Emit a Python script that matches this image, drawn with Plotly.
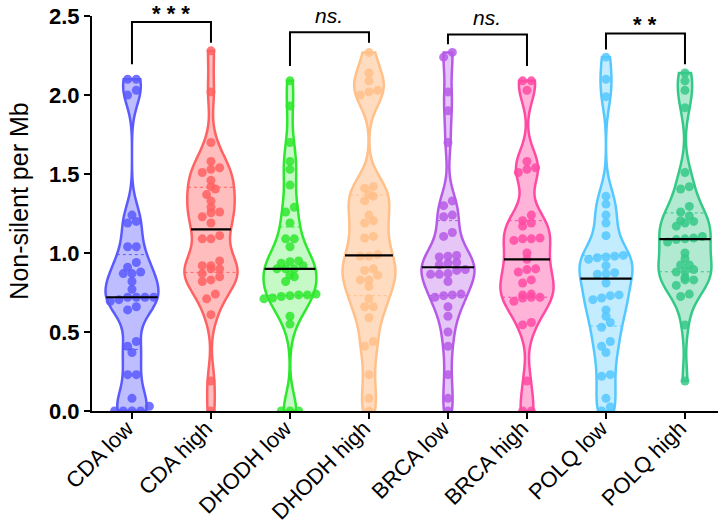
import numpy as np
import plotly.graph_objects as go

categories = ["CDA low", "CDA high", "DHODH low", "DHODH high",
              "BRCA low", "BRCA high", "POLQ low", "POLQ high"]

cda_low = [2.10, 2.10, 2.03, 2.00, 1.24, 1.20, 1.19, 1.04, 1.04, 0.94, 0.91, 0.88,
           0.87, 0.87, 0.82, 0.77, 0.72, 0.72, 0.72, 0.72, 0.705, 0.695, 0.66, 0.64,
           0.44, 0.41, 0.37, 0.23, 0.23, 0.08, 0.03, 0.0, 0.0, 0.0, 0.0]
cda_high = [2.28, 2.02, 1.70, 1.58, 1.54, 1.53, 1.51, 1.46, 1.42, 1.405, 1.37, 1.33,
            1.29, 1.26, 1.255, 1.23, 1.19, 1.11, 1.09, 1.09, 0.95, 0.92, 0.92, 0.90,
            0.90, 0.87, 0.85, 0.83, 0.82, 0.74, 0.71, 0.61, 0.19, 0.0]
dhodh_low = [2.09, 1.93, 1.70, 1.58, 1.53, 1.43, 1.29, 1.26, 1.19, 1.09, 1.09, 1.04,
             0.95, 0.945, 0.935, 0.92, 0.90, 0.90, 0.90, 0.86, 0.85, 0.82, 0.74, 0.735,
             0.735, 0.73, 0.725, 0.715, 0.71, 0.60, 0.55, 0.0, 0.0, 0.0]
dhodh_high = [2.27, 2.14, 2.09, 2.03, 2.02, 2.00, 1.42, 1.41, 1.37, 1.36, 1.33, 1.24,
              1.205, 1.19, 1.105, 1.095, 0.99, 0.98, 0.98, 0.90, 0.89, 0.86, 0.83, 0.83,
              0.79, 0.71, 0.66, 0.66, 0.59, 0.44, 0.41, 0.23, 0.08, 0.0]
brca_low = [2.27, 2.24, 2.02, 1.90, 1.70, 1.33, 1.30, 1.24, 1.23, 1.13, 1.105, 0.985,
            0.98, 0.975, 0.94, 0.935, 0.925, 0.895, 0.89, 0.87, 0.865, 0.865, 0.82, 0.74,
            0.735, 0.73, 0.72, 0.66, 0.60, 0.50, 0.41, 0.23, 0.08, 0.0]
brca_high = [2.09, 2.09, 2.03, 1.58, 1.54, 1.53, 1.51, 1.24, 1.205, 1.19, 1.17, 1.095,
             1.09, 1.09, 1.08, 1.00, 0.96, 0.90, 0.895, 0.88, 0.83, 0.81, 0.74, 0.735,
             0.72, 0.72, 0.715, 0.695, 0.56, 0.545, 0.19, 0.0, 0.0]
polq_low = [2.24, 2.10, 1.99, 1.36, 1.31, 1.24, 1.19, 1.11, 0.985, 0.98, 0.975, 0.97,
            0.96, 0.92, 0.875, 0.87, 0.865, 0.81, 0.735, 0.73, 0.715, 0.705, 0.64, 0.60,
            0.56, 0.53, 0.44, 0.41, 0.37, 0.23, 0.22, 0.08, 0.025, 0.0]
polq_high = [2.14, 2.09, 2.03, 1.92, 1.51, 1.42, 1.405, 1.295, 1.26, 1.235, 1.205, 1.20,
             1.19, 1.17, 1.105, 1.095, 1.09, 1.085, 1.07, 1.00, 0.965, 0.925, 0.925, 0.895,
             0.885, 0.88, 0.845, 0.83, 0.83, 0.795, 0.74, 0.725, 0.545, 0.19]

series = [cda_low, cda_high, dhodh_low, dhodh_high, brca_low, brca_high, polq_low, polq_high]

colors = ["#5a5aff", "#ff6262", "#2ee82e", "#ffc08a",
          "#b65ae8", "#ff4aa3", "#55c8ff", "#35c987"]
fills = ["rgba(90,90,255,0.40)", "rgba(255,98,98,0.42)", "rgba(46,232,46,0.28)",
         "rgba(255,192,138,0.55)", "rgba(182,90,232,0.35)", "rgba(255,74,163,0.42)",
         "rgba(85,200,255,0.35)", "rgba(53,201,135,0.38)"]

bracket_pairs = [(0, 1), (2, 3), (4, 5), (6, 7)]
bracket_labels = ["* * *", "<i>ns.</i>", "<i>ns.</i>", "* *"]
bracket_top = [2.462, 2.397, 2.384, 2.39]
bracket_left_end = [2.195, 2.184, 2.321, 2.289]
bracket_right_end = [2.331, 2.331, 2.184, 2.195]

y_ticks = [0.0, 0.5, 1.0, 1.5, 2.0, 2.5]

BW = 0.11
VW = 0.67
STEP = 0.11
ROW = 0.035
FONT = "Arial, Liberation Sans, sans-serif"


def density(vals, t):
    v = np.asarray(vals, float)
    t = np.atleast_1d(np.asarray(t, float))
    return np.exp(-0.5 * ((t[:, None] - v[None, :]) / BW) ** 2).sum(axis=1)


def halfwidth(vals, y):
    v = np.asarray(vals, float)
    grid = np.linspace(v.min(), v.max(), 600)
    fmax = density(v, grid).max()
    return VW / 2 * density(v, y)[0] / fmax


def swarm(vals):
    v = np.asarray(vals, float)
    order = np.argsort(v)
    offs = np.zeros(len(v))
    rows = []
    for i in order:
        if rows and v[i] - v[rows[-1][0]] < ROW:
            rows[-1].append(i)
        else:
            rows.append([i])
    for r in rows:
        n = len(r)
        for k, i in enumerate(r):
            offs[i] = (k - (n - 1) / 2) * STEP
    return offs


fig = go.Figure()

for i, vals in enumerate(series):
    fig.add_trace(go.Violin(
        x=[i] * len(vals), y=vals, width=VW, scalemode="width", spanmode="hard",
        bandwidth=BW, points=False, line=dict(color=colors[i], width=2.5),
        fillcolor=fills[i], box_visible=False, meanline_visible=False,
        showlegend=False, hoverinfo="skip"))

for i, vals in enumerate(series):
    offs = swarm(vals)
    fig.add_trace(go.Scatter(
        x=i + offs, y=vals, mode="markers",
        marker=dict(size=9, color=colors[i], opacity=0.85, line=dict(width=0)),
        showlegend=False, hoverinfo="skip"))

for i, vals in enumerate(series):
    q1, med, q3 = np.percentile(vals, [25, 50, 75])
    for q in (q1, q3):
        hw = halfwidth(vals, q)
        fig.add_trace(go.Scatter(
            x=[i - hw, i + hw], y=[q, q], mode="lines",
            line=dict(color=colors[i], width=1, dash="dot"),
            showlegend=False, hoverinfo="skip"))
    hw = halfwidth(vals, med)
    fig.add_trace(go.Scatter(
        x=[i - hw, i + hw], y=[med, med], mode="lines",
        line=dict(color="black", width=2.2),
        showlegend=False, hoverinfo="skip"))

for (a, b), lab, top, le, re in zip(bracket_pairs, bracket_labels, bracket_top,
                                    bracket_left_end, bracket_right_end):
    fig.add_trace(go.Scatter(
        x=[a, a, b, b], y=[le, top, top, re], mode="lines",
        line=dict(color="black", width=2), cliponaxis=False,
        showlegend=False, hoverinfo="skip"))
    star = "*" in lab
    fig.add_annotation(
        x=(a + b) / 2, y=top, text=lab, showarrow=False, yanchor="bottom",
        yshift=-5 if star else 4, borderpad=0,
        font=dict(family=FONT, size=22 if star else 21,
                  color="black", weight="bold" if star else "normal"))

fig.add_annotation(
    xref="paper", yref="paper", x=0, y=0.53, xshift=-73, text="Non-silent per Mb",
    textangle=-90, showarrow=False, xanchor="center", yanchor="middle",
    font=dict(family=FONT, size=25, color="black"))

fig.update_layout(
    width=718, height=528, plot_bgcolor="white", paper_bgcolor="white",
    margin=dict(l=92, r=0, t=16, b=117, autoexpand=False),
    xaxis=dict(range=[-0.506, 7.418], tickmode="array", tickvals=list(range(len(categories))),
               ticktext=categories, tickangle=-45, showline=True, linecolor="black",
               linewidth=2, ticks="outside", ticklen=6, tickwidth=2, tickcolor="black",
               showgrid=False, zeroline=False, automargin=False, ticklabelstandoff=-12,
               ticklabelshift=-5,
               tickfont=dict(family=FONT, size=22, color="black")),
    yaxis=dict(range=[0, 2.5005], tickmode="array", tickvals=y_ticks,
               ticktext=[f"{t:.1f}" for t in y_ticks], showline=True, linecolor="black",
               linewidth=2, ticks="outside", ticklen=6, tickwidth=2, tickcolor="black",
               showgrid=False, zeroline=False, automargin=False, ticklabeloverflow="allow",
               tickfont=dict(family=FONT, size=22, color="black", weight="bold")),
)

fig.write_html("out.html", config={"displayModeBar": False},
               post_script="document.body.style.margin='0';")
